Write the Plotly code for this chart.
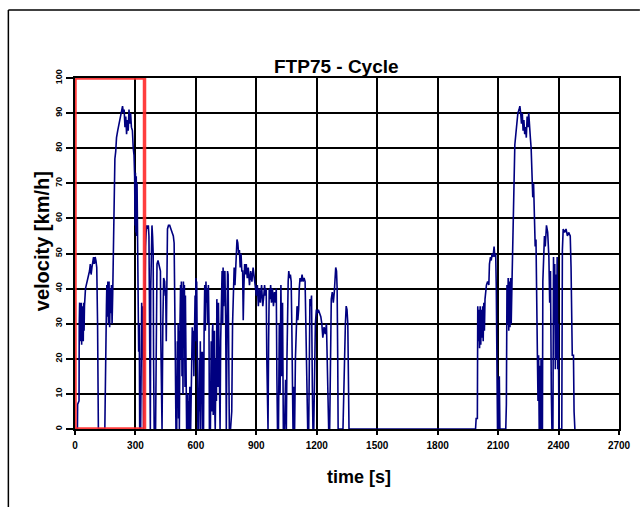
import plotly.graph_objects as go

# ---- data: (time [s], velocity [km/h]) ----
cold_phase = [
    (0, 0), (12, 0), (13, 7), (20, 8), (21, 30), (23, 36), (25, 25), (27, 34), (29, 26), (31, 36),
    (33, 24), (35, 35), (37, 27), (39, 33), (41, 25), (43, 36), (45, 28), (47, 35), (49, 38), (52, 40),
    (56, 41), (60, 42), (66, 44), (72, 45), (76, 47), (80, 44), (84, 46), (88, 48), (92, 49), (96, 47),
    (100, 49), (104, 48), (108, 46), (112, 30), (114, 8), (116, 0),
    (148, 0), (150, 14), (153, 14), (156, 35), (158, 41), (161, 32), (163, 42), (166, 30), (169, 42),
    (172, 29), (175, 40), (178, 33), (181, 41), (184, 30), (187, 38), (189, 45), (192, 58), (196, 70),
    (198, 77), (202, 79), (206, 83), (212, 85), (218, 87), (224, 89), (230, 91), (236, 92), (240, 90),
    (244, 91), (248, 86), (252, 89), (256, 84), (260, 88), (264, 85), (268, 91), (272, 87), (276, 90),
    (280, 86), (285, 85), (289, 80), (293, 78), (296, 72), (298, 58), (300, 73), (302, 56), (304, 72),
    (306, 55), (308, 70), (310, 54), (313, 45), (316, 22), (319, 30), (321, 0), (326, 0), (328, 18),
    (331, 36), (334, 20), (337, 35), (340, 0),
    (344, 20), (347, 45), (350, 52), (353, 56), (356, 58), (360, 57), (364, 58), (367, 55), (369, 30),
    (371, 0), (374, 0), (376, 40), (379, 57), (382, 58), (385, 55), (388, 50), (390, 20), (393, 0),
    (400, 0), (404, 30), (407, 47), (412, 48), (416, 47), (420, 46), (424, 45), (426, 25), (429, 0),
    (432, 0), (436, 30), (440, 43), (445, 42), (448, 38), (450, 40), (453, 25), (456, 50), (459, 57),
    (464, 58), (470, 58), (476, 57), (482, 56), (488, 55), (492, 53), (495, 42), (498, 20), (501, 0),
    (505, 0),
]

stabilized_phase = [
    (508, 25), (510, 6), (512, 30), (514, 3), (516, 28), (518, 0), (521, 30), (524, 41), (526, 20),
    (528, 42), (531, 15), (533, 40), (536, 10), (538, 42), (541, 35), (543, 41), (546, 12), (548, 38),
    (551, 20), (554, 0), (558, 0), (560, 10), (562, 0), (565, 8), (567, 0), (570, 12), (572, 6),
    (574, 0), (577, 10), (580, 15), (582, 29), (584, 20), (586, 28), (588, 27), (590, 15), (592, 29),
    (594, 36), (596, 38), (598, 25), (600, 43), (602, 30), (604, 42), (607, 25), (610, 0), (614, 0),
    (616, 15), (618, 20), (620, 5), (622, 25), (624, 0), (626, 10), (628, 22), (630, 8), (632, 22),
    (634, 0), (638, 0), (641, 30), (644, 41), (647, 28), (650, 42), (653, 36), (656, 40), (659, 30),
    (662, 41), (665, 30), (667, 0), (672, 0), (674, 18), (676, 25), (678, 5), (680, 8), (682, 28),
    (684, 30), (686, 4), (688, 12), (690, 26), (692, 28), (694, 5), (696, 0), (700, 20), (702, 8),
    (704, 37), (706, 15), (708, 30), (710, 12), (712, 36), (716, 10), (720, 0), (723, 25), (726, 38),
    (730, 45), (733, 30), (735, 46), (738, 35), (740, 44), (744, 45), (748, 30), (751, 0),
    (754, 30), (757, 45), (760, 44), (763, 10), (766, 0), (772, 0), (778, 5), (782, 30), (786, 43),
    (790, 46), (794, 41), (797, 45), (800, 52), (804, 54), (808, 53), (812, 50), (816, 51), (820, 46),
    (824, 50), (828, 45), (832, 45), (835, 31), (838, 40), (842, 47), (846, 44), (850, 47), (855, 43),
    (860, 46), (866, 41), (872, 45), (878, 42), (884, 46), (890, 43), (895, 41), (900, 38), (905, 41),
    (910, 35), (915, 40), (920, 36), (926, 41), (932, 35), (937, 38), (941, 41), (945, 38), (949, 40),
    (952, 20), (955, 0), (958, 0), (961, 25), (964, 40), (968, 37), (971, 41), (975, 36), (980, 40),
    (985, 35), (990, 39), (995, 36), (999, 40), (1002, 15), (1005, 0), (1010, 0), (1014, 30),
    (1018, 10), (1022, 41), (1026, 15), (1030, 36), (1034, 0), (1040, 0), (1045, 14), (1049, 0),
    (1052, 20), (1055, 38), (1058, 42), (1061, 45), (1065, 43), (1069, 44), (1073, 42), (1076, 30),
    (1079, 10), (1082, 0), (1086, 12), (1090, 0), (1094, 20), (1098, 33), (1102, 35), (1106, 31),
    (1110, 34), (1113, 40), (1117, 43), (1122, 42), (1127, 44), (1132, 42), (1137, 43), (1142, 42),
    (1145, 30), (1148, 15), (1151, 8), (1155, 0), (1160, 0), (1163, 20), (1166, 37), (1170, 35),
    (1174, 38), (1178, 12), (1181, 0), (1185, 0), (1189, 15), (1193, 30), (1198, 34), (1203, 33),
    (1208, 34), (1214, 33), (1220, 32), (1225, 30), (1230, 26), (1236, 29), (1242, 27), (1248, 30),
    (1252, 18), (1256, 5), (1259, 0), (1264, 0), (1268, 20), (1272, 37), (1277, 39), (1282, 36),
    (1287, 39), (1291, 42), (1294, 46), (1298, 45), (1301, 40), (1304, 20), (1306, 0), (1330, 0),
    (1334, 10), (1338, 25), (1342, 30), (1346, 35), (1350, 34), (1354, 30), (1357, 10), (1360, 0),
    (1372, 0),
]

hot_phase = [
    (1988, 0), (1991, 3), (1997, 3), (1999, 35), (2002, 25), (2005, 34), (2008, 23), (2011, 35),
    (2014, 24), (2017, 34), (2020, 26), (2023, 35), (2026, 25), (2029, 36), (2032, 28), (2035, 37),
    (2038, 40), (2042, 41), (2048, 42), (2054, 41), (2057, 47), (2062, 49), (2066, 48), (2070, 50),
    (2075, 49), (2080, 52), (2084, 49), (2088, 50), (2091, 40), (2094, 16), (2097, 0), (2100, 14),
    (2103, 0), (2106, 15), (2109, 0), (2138, 0), (2141, 7), (2144, 41), (2147, 30), (2150, 43),
    (2153, 28), (2156, 42), (2159, 29), (2162, 43), (2165, 30), (2169, 42), (2172, 52), (2175, 63),
    (2178, 76), (2183, 81), (2188, 84), (2194, 88), (2198, 90), (2204, 91), (2208, 92), (2212, 90),
    (2216, 87), (2220, 90), (2224, 85), (2228, 88), (2232, 84), (2236, 86), (2240, 83), (2244, 89),
    (2248, 86), (2252, 90), (2256, 85), (2260, 83), (2264, 80), (2268, 74), (2272, 66), (2276, 70),
    (2280, 55), (2284, 52), (2288, 54), (2291, 29), (2295, 21), (2298, 8), (2301, 21), (2304, 0),
    (2307, 18), (2310, 0), (2313, 20), (2316, 0), (2320, 0), (2322, 42), (2326, 50), (2330, 55),
    (2334, 52), (2340, 58), (2346, 56), (2352, 49), (2356, 36), (2360, 45), (2364, 11), (2367, 0),
    (2372, 0), (2375, 49), (2378, 30), (2381, 47), (2384, 17), (2387, 44), (2390, 20), (2393, 49),
    (2396, 17), (2399, 30), (2402, 0), (2416, 0), (2419, 51), (2423, 57), (2430, 56), (2437, 57),
    (2444, 55), (2450, 56), (2458, 55), (2462, 46), (2468, 21), (2474, 21), (2477, 5), (2481, 0),
]

x_ticks = [0, 300, 600, 900, 1200, 1500, 1800, 2100, 2400, 2700]
y_ticks = [0, 10, 20, 30, 40, 50, 60, 70, 80, 90, 100]
highlight_end = 345  # red box: 0 .. 345 s

points = cold_phase + stabilized_phase + hot_phase
time_s = [p[0] for p in points]
speed = [p[1] for p in points]

FONT = "Liberation Sans, Arial, sans-serif"

fig = go.Figure()
fig.add_trace(go.Scatter(x=time_s, y=speed, mode="lines",
                         line=dict(color="#000080", width=1.6), showlegend=False))

axis_common = dict(showgrid=True, gridcolor="black", gridwidth=2,
                   showline=True, linecolor="black", linewidth=2, mirror=True,
                   ticks="outside", tickcolor="black", tickwidth=1.5, zeroline=False)

fig.update_xaxes(range=[0, 2700], tickmode="array", tickvals=x_ticks,
                 ticktext=[str(v) for v in x_ticks], ticklen=4, ticklabelstandoff=2,
                 tickfont=dict(family=FONT, size=10, color="black", weight="bold"),
                 **axis_common)
fig.update_yaxes(range=[0, 100], tickmode="array", tickvals=y_ticks,
                 ticktext=[str(v) for v in y_ticks], ticklen=7, tickangle=-90,
                 tickfont=dict(family=FONT, size=9, color="black", weight="bold"),
                 **axis_common)

# red highlight rectangle
fig.add_shape(type="rect", xref="x", yref="y", x0=0, x1=highlight_end, y0=0, y1=100,
              line=dict(color="#ff2a2a", width=3.5), layer="above", opacity=0.9)

# outer frame (top and left border)
L, R, T, B = 75, 622, 78, 429
W, H = R - L, B - T
px = lambda x: (x - L) / W
py = lambda y: (B - y) / H
fig.add_shape(type="line", xref="paper", yref="paper", x0=px(8), x1=px(643), y0=py(10), y1=py(10),
              line=dict(color="black", width=1.5))
fig.add_shape(type="line", xref="paper", yref="paper", x0=px(8), x1=px(8), y0=py(10), y1=py(507),
              line=dict(color="black", width=1.5))

fig.add_annotation(text="<b>FTP75 - Cycle</b>", xref="paper", yref="paper", x=px(338), y=py(67),
                   showarrow=False, font=dict(family=FONT, size=19, color="black"),
                   xanchor="center", yanchor="middle")
fig.add_annotation(text="<b>time [s]</b>", xref="paper", yref="paper", x=px(361), y=py(477),
                   showarrow=False, font=dict(family=FONT, size=18, color="black"),
                   xanchor="center", yanchor="middle")
fig.add_annotation(text="<b>velocity [km/h]</b>", xref="paper", yref="paper", x=px(42), y=py(241),
                   showarrow=False, textangle=-90, font=dict(family=FONT, size=20, color="black"),
                   xanchor="center", yanchor="middle")

fig.update_layout(width=643, height=507, margin=dict(l=L, r=643 - R, t=T, b=507 - B),
                  paper_bgcolor="white", plot_bgcolor="white")

fig.write_html("out.html")
